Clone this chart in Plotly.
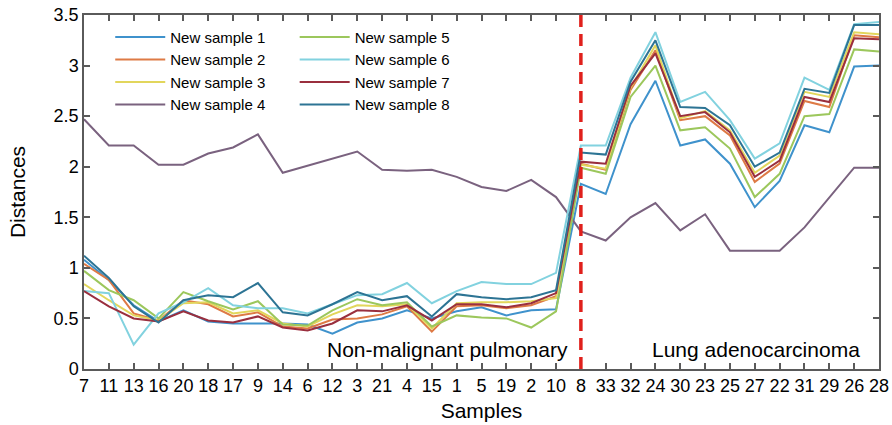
import plotly.graph_objects as go

normal_samples = ["7", "11", "13", "16", "20", "18", "17", "9", "14", "6",
                  "12", "3", "21", "4", "15", "1", "5", "19", "2", "10"]
tumor_samples = ["8", "33", "32", "24", "30", "23", "25", "27", "22", "31", "29", "26", "28"]
categories = normal_samples + tumor_samples

s1 = [1.08, 0.88, 0.63, 0.47, 0.58, 0.47, 0.45, 0.45, 0.45, 0.44, 0.35, 0.46, 0.50, 0.58, 0.50, 0.57, 0.61, 0.53, 0.58, 0.59,
      1.83, 1.73, 2.42, 2.85, 2.21, 2.27, 2.03, 1.60, 1.86, 2.41, 2.34, 2.99, 3.00]
s2 = [1.04, 0.88, 0.55, 0.48, 0.68, 0.64, 0.52, 0.56, 0.42, 0.40, 0.49, 0.50, 0.54, 0.62, 0.37, 0.62, 0.63, 0.60, 0.63, 0.72,
      2.03, 1.97, 2.76, 3.15, 2.46, 2.50, 2.31, 1.85, 2.03, 2.65, 2.59, 3.30, 3.28]
s3 = [0.84, 0.68, 0.53, 0.48, 0.65, 0.66, 0.55, 0.58, 0.45, 0.42, 0.54, 0.63, 0.62, 0.64, 0.40, 0.65, 0.66, 0.66, 0.67, 0.70,
      2.02, 1.98, 2.78, 3.20, 2.48, 2.55, 2.36, 1.94, 2.11, 2.74, 2.69, 3.33, 3.31]
s4 = [2.47, 2.21, 2.21, 2.02, 2.02, 2.13, 2.19, 2.32, 1.94, 2.01, 2.08, 2.15, 1.97, 1.96, 1.97, 1.90, 1.80, 1.76, 1.87, 1.70,
      1.36, 1.27, 1.50, 1.64, 1.37, 1.53, 1.17, 1.17, 1.17, 1.40, 1.70, 1.99, 1.99]
s5 = [0.97, 0.78, 0.68, 0.50, 0.76, 0.67, 0.59, 0.67, 0.44, 0.43, 0.58, 0.69, 0.63, 0.66, 0.42, 0.53, 0.51, 0.50, 0.41, 0.57,
      1.99, 1.93, 2.69, 3.00, 2.36, 2.39, 2.18, 1.70, 1.93, 2.50, 2.52, 3.16, 3.14]
s6 = [0.77, 0.75, 0.24, 0.55, 0.66, 0.80, 0.63, 0.60, 0.60, 0.55, 0.64, 0.73, 0.74, 0.85, 0.65, 0.77, 0.86, 0.84, 0.84, 0.95,
      2.21, 2.21, 2.88, 3.33, 2.64, 2.74, 2.46, 2.08, 2.23, 2.88, 2.76, 3.41, 3.43]
s7 = [0.77, 0.62, 0.50, 0.47, 0.57, 0.48, 0.46, 0.52, 0.41, 0.38, 0.45, 0.58, 0.57, 0.63, 0.48, 0.64, 0.64, 0.61, 0.65, 0.75,
      2.05, 2.03, 2.80, 3.12, 2.50, 2.54, 2.34, 1.90, 2.06, 2.69, 2.64, 3.27, 3.26]
s8 = [1.12, 0.90, 0.62, 0.46, 0.68, 0.73, 0.71, 0.85, 0.56, 0.53, 0.64, 0.76, 0.68, 0.72, 0.52, 0.74, 0.71, 0.69, 0.71, 0.78,
      2.14, 2.12, 2.84, 3.25, 2.59, 2.58, 2.41, 2.00, 2.14, 2.77, 2.73, 3.40, 3.40]

series_names = ["New sample 1", "New sample 2", "New sample 3", "New sample 4",
                "New sample 5", "New sample 6", "New sample 7", "New sample 8"]
series_values = [s1, s2, s3, s4, s5, s6, s7, s8]
colors = ["#3f92cc", "#de7a45", "#e2d65c", "#7a627f", "#9cc75c", "#82d2df", "#9a2f3e", "#2d7494"]

FONT = "Liberation Sans, Arial, sans-serif"

fig = go.Figure()
for i, (name, vals, col) in enumerate(zip(series_names, series_values, colors)):
    fig.add_trace(go.Scatter(
        x=categories, y=vals, mode="lines", name=name,
        line=dict(color=col, width=2),
        legend="legend" if i < 4 else "legend2",
    ))

boundary_index = categories.index(tumor_samples[0])
fig.add_shape(type="line", xref="x", yref="y",
              x0=boundary_index, x1=boundary_index, y0=0, y1=3.5,
              line=dict(color="#e0201c", width=3.5, dash="12px,7px"))

fig.add_annotation(text="Non-malignant pulmonary", xref="paper", yref="paper",
                   x=0.611, y=0.054, xanchor="right", yanchor="middle",
                   showarrow=False, font=dict(family=FONT, size=21, color="black"))
fig.add_annotation(text="Lung adenocarcinoma", xref="paper", yref="paper",
                   x=0.845, y=0.054, xanchor="center", yanchor="middle",
                   showarrow=False, font=dict(family=FONT, size=21, color="black"))

axis_common = dict(showline=True, linecolor="#5a5a5a", linewidth=1.5, mirror="ticks",
                   ticks="inside", ticklen=6, tickcolor="#5a5a5a", tickwidth=1.5,
                   showgrid=False, zeroline=False, automargin=False,
                   tickfont=dict(family=FONT, size=18, color="black"))

fig.update_xaxes(type="category", categoryorder="array", categoryarray=categories,
                 range=[0, len(categories) - 1],
                 title=dict(text="Samples", font=dict(family=FONT, size=21, color="black"), standoff=8),
                 **axis_common)
fig.update_yaxes(range=[0, 3.5], dtick=0.5,
                 title=dict(text="Distances", font=dict(family=FONT, size=21, color="black"), standoff=22),
                 **axis_common)

legend_common = dict(font=dict(family=FONT, size=15, color="black"),
                     bgcolor="rgba(0,0,0,0)", borderwidth=0, itemwidth=50,
                     yanchor="top", xanchor="left", y=0.984, tracegroupgap=0)

fig.update_layout(
    width=892, height=425,
    margin=dict(l=84, r=13, t=15, b=56),
    paper_bgcolor="white", plot_bgcolor="white",
    font=dict(family=FONT),
    showlegend=True,
    legend=dict(x=0.033, **legend_common),
    legend2=dict(x=0.265, **legend_common),
)

# remove the browser's default 8px body margin so the figure fills the window
fig.write_html("out.html",
               config={"displayModeBar": False},
               post_script="document.body.style.margin='0px';document.body.style.overflow='hidden';")
